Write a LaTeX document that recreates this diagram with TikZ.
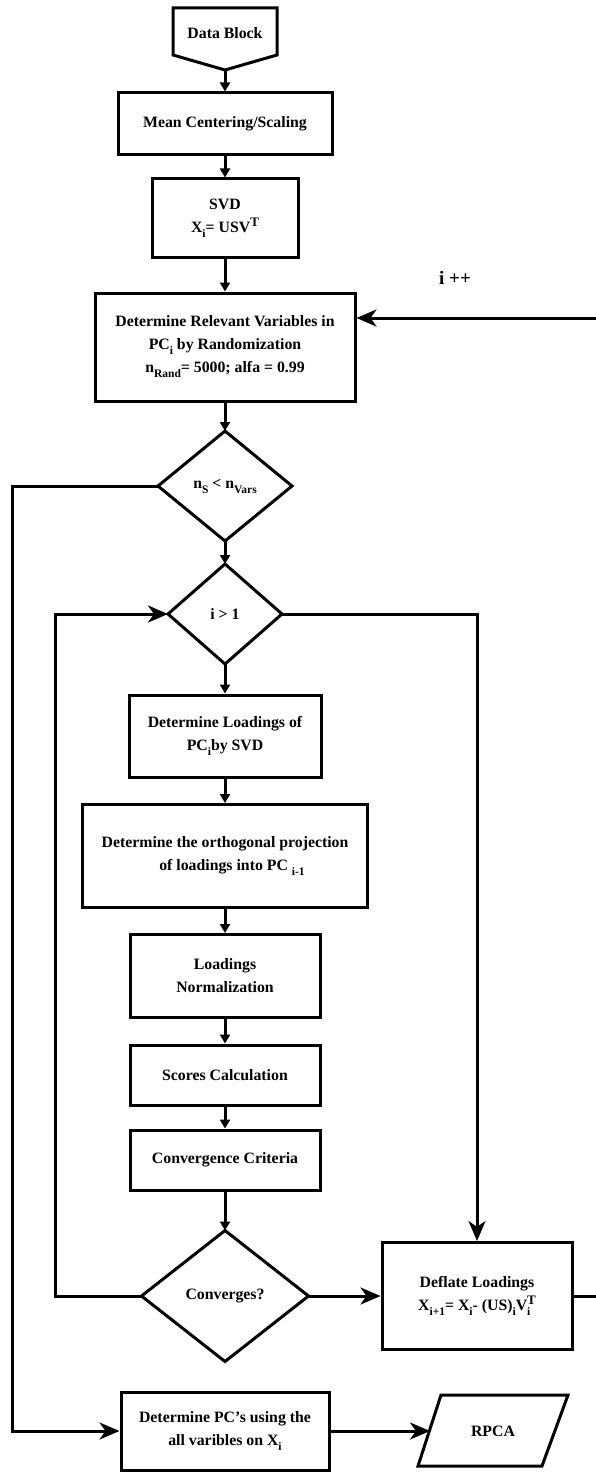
\documentclass[tikz,border=0pt]{standalone}
\usepackage{fontspec}
\setmainfont{Liberation Serif}
\usetikzlibrary{arrows.meta,shapes.geometric,calc}
\newcommand\subx[1]{\raisebox{-5pt}{\fontsize{11.5}{11.5}\selectfont #1}}
\newcommand\supx[1]{\raisebox{6pt}{\fontsize{13}{13}\selectfont #1}}
\begin{document}
\begin{tikzpicture}[x=1pt,y=-1pt,
 txt/.style={font=\bfseries\fontsize{15.8}{23}\selectfont, align=center},
 box/.style={txt, draw, line width=3pt, rectangle, inner sep=0pt},
 dia/.style={txt, draw, line width=3pt, diamond, inner sep=0pt, outer sep=0pt, line join=miter},
 flow/.style={line width=3pt, -{Triangle[length=9pt,width=10pt]}},
 loopar/.style={line width=3pt, -{Stealth[length=20pt,width=17pt,inset=6pt]}},
 plain/.style={line width=3pt}]
\useasboundingbox (0,0) rectangle (596,1474);
% Data block
\draw[line width=3pt, line join=miter] (173,8) -- (277,8) -- (277,55) -- (225,70) -- (173,55) -- cycle;
\node[txt] (data) at (225,33) {Data Block};
\coordinate (datatip) at (225,71);
% column
\node[box, minimum width=214pt, minimum height=62pt] (mean) at (225,124) {Mean Centering/Scaling};
\node[box, minimum width=146pt, minimum height=78pt] (svd) at (225,218) {SVD\\X\subx{i}= USV\supx{T}};
\node[box, minimum width=260pt, minimum height=108pt] (rel) at (225,347) {Determine Relevant Variables in\\PC\subx{i} by Randomization\\n\subx{Rand}= 5000; alfa = 0.99};
\node[dia, minimum width=134pt, minimum height=110pt] (ns) at (225,486) {n\subx{S} < n\subx{Vars}};
\node[dia, minimum width=114pt, minimum height=100pt] (ig) at (225,614) {i > 1};
\node[box, minimum width=192pt, minimum height=82pt] (load) at (225,736) {Determine Loadings of\\PC\subx{i}by SVD};
\node[box, minimum width=285pt, minimum height=103pt] (orth) at (225,856) {Determine the orthogonal projection\\\hspace*{14pt}of loadings into PC \subx{i-1}};
\node[box, minimum width=190pt, minimum height=83pt] (norm) at (225,976) {Loadings\\Normalization};
\node[box, minimum width=190pt, minimum height=60pt] (scores) at (225,1075) {Scores Calculation};
\node[box, minimum width=190pt, minimum height=60pt] (conv) at (225,1160) {Convergence Criteria};
\node[dia, minimum width=167pt, minimum height=131pt] (cvg) at (225,1296) {Converges?};
\node[box, minimum width=190pt, minimum height=107pt] (defl) at (477,1296) {Deflate Loadings\\X\subx{i+1}= X\subx{i}- (US)\subx{i}V\rlap{\subx{i}}\supx{T}};
\node[box, minimum width=208pt, minimum height=78pt] (final) at (225,1431) {Determine PC’s using the\\all varibles on X\subx{i}};
% RPCA parallelogram
\draw[line width=3pt, line join=miter] (441,1395) -- (568,1395) -- (542,1466) -- (418,1466) -- cycle;
\node[txt] (rpca) at (493,1431) {RPCA};
\coordinate (rpcain) at (430,1431);
\node[txt, font=\bfseries\fontsize{19}{23}\selectfont] (ipp) at (455,278) {i ++};
% connectors
\draw[flow] (datatip) -- (mean);
\draw[flow] (mean) -- (svd);
\draw[flow] (svd) -- (rel);
\draw[flow] (rel) -- (ns);
\draw[flow] (ns) -- (ig);
\draw[flow] (ig) -- (load);
\draw[flow] (load) -- (orth);
\draw[flow] (orth) -- (norm);
\draw[flow] (norm) -- (scores);
\draw[flow] (scores) -- (conv);
\draw[flow] (conv) -- (cvg);
\coordinate (lft) at (12,486);
\draw[loopar] (ns.west) -- (lft) |- (final.west);
\coordinate (inl) at (55,1296);
\draw[loopar] (cvg.west) -- (inl) |- (ig.west);
\draw[loopar] (ig.east) -| (defl.north);
\draw[loopar] (cvg.east) -- (defl.west);
\coordinate (rgt) at (620,1296);
\draw[loopar] (defl.east) -- (rgt) |- ($(rel.east)+(0,-29)$);
\draw[loopar] (final.east) -- (rpcain);
\end{tikzpicture}
\end{document}
